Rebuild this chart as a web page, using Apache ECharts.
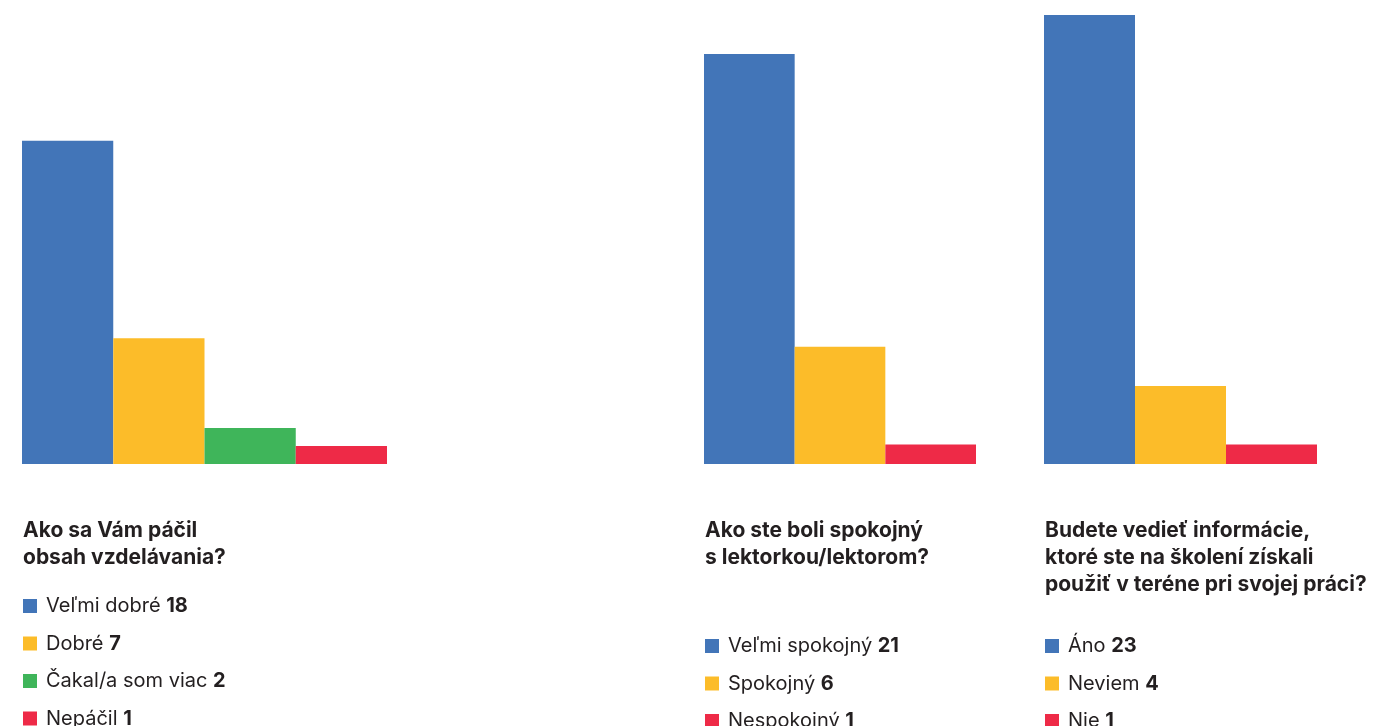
<!DOCTYPE html>
<html>
<head>
<meta charset="utf-8">
<script src="https://cdn.jsdelivr.net/npm/echarts@6/dist/echarts.min.js"></script>
<style>
  html, body { margin: 0; padding: 0; background: #fff; }
  #chart { width: 1376px; height: 726px; }
</style>
</head>
<body>
<div id="chart"></div>
<script>
// Survey answers, one block per question
const titles = [
  'Ako sa Vám páčil\nobsah vzdelávania?',
  'Ako ste boli spokojný\ns lektorkou/lektorom?',
  'Budete vedieť informácie,\nktoré ste na školení získali\npoužiť v teréne pri svojej práci?'
];
const answers1 = ['Veľmi dobré', 'Dobré', 'Čakal/a som viac', 'Nepáčil'];
const counts1 = [18, 7, 2, 1];
const answers2 = ['Veľmi spokojný', 'Spokojný', 'Nespokojný'];
const counts2 = [21, 6, 1];
const answers3 = ['Áno', 'Neviem', 'Nie'];
const counts3 = [23, 4, 1];

const colors1 = ['#4275B8', '#FCBC29', '#3FB55A', '#EE2A47'];
const colors23 = ['#4275B8', '#FCBC29', '#EE2A47'];

const FONT = 'Inter, "Liberation Sans", sans-serif';
const TEXT = '#231f20';

const blocks = [
  { answers: answers1, counts: counts1, colors: colors1, left: 22, width: 365, max: 25, legendTop: 594 },
  { answers: answers2, counts: counts2, colors: colors23, left: 704, width: 272, max: 23, legendTop: 634 },
  { answers: answers3, counts: counts3, colors: colors23, left: 1044, width: 273, max: 23, legendTop: 634 }
];

const grid = [], xAxis = [], yAxis = [], series = [], legend = [], title = [];

blocks.forEach((b, gi) => {
  grid.push({ left: b.left, width: b.width, top: 15, bottom: 262, containLabel: false });
  xAxis.push({
    type: 'category', gridIndex: gi, data: b.answers,
    axisLine: { show: false }, axisTick: { show: false }, axisLabel: { show: false }
  });
  yAxis.push({
    type: 'value', gridIndex: gi, min: 0, max: b.max,
    axisLine: { show: false }, axisTick: { show: false },
    axisLabel: { show: false }, splitLine: { show: false }
  });
  const valueOf = {};
  b.answers.forEach((name, i) => {
    valueOf[name] = b.counts[i];
    series.push({
      type: 'bar', name: name, xAxisIndex: gi, yAxisIndex: gi,
      stack: 'q' + gi, barCategoryGap: 0,
      data: b.answers.map((_, j) => (j === i ? b.counts[i] : '-')),
      itemStyle: { color: b.colors[i] },
      emphasis: { disabled: true },
      silent: true
    });
  });
  legend.push({
    orient: 'vertical', left: b.left + 1, top: b.legendTop, height: 200, padding: 0,
    itemWidth: 14, itemHeight: 14, itemGap: 13.5, icon: 'rect',
    selectedMode: false,
    data: b.answers,
    formatter: name => '{n|' + name + '} {v|' + valueOf[name] + '}',
    textStyle: {
      fontFamily: FONT, fontSize: 20, color: TEXT, lineHeight: 24,
      rich: {
        n: { fontFamily: FONT, fontSize: 20, color: TEXT, fontWeight: 400, padding: [0, 0, 0, 4] },
        v: { fontFamily: FONT, fontSize: 20, color: TEXT, fontWeight: 700 }
      }
    }
  });
  title.push({
    text: titles[gi], left: b.left + 1, top: 517, padding: 0,
    textStyle: { fontFamily: FONT, fontSize: 21, fontWeight: 700, color: TEXT, lineHeight: 27 }
  });
});

const chart = echarts.init(document.getElementById('chart'), null, { renderer: 'canvas' });
chart.setOption({
  animation: false,
  backgroundColor: '#ffffff',
  title, grid, xAxis, yAxis, legend, series
});
</script>
</body>
</html>
